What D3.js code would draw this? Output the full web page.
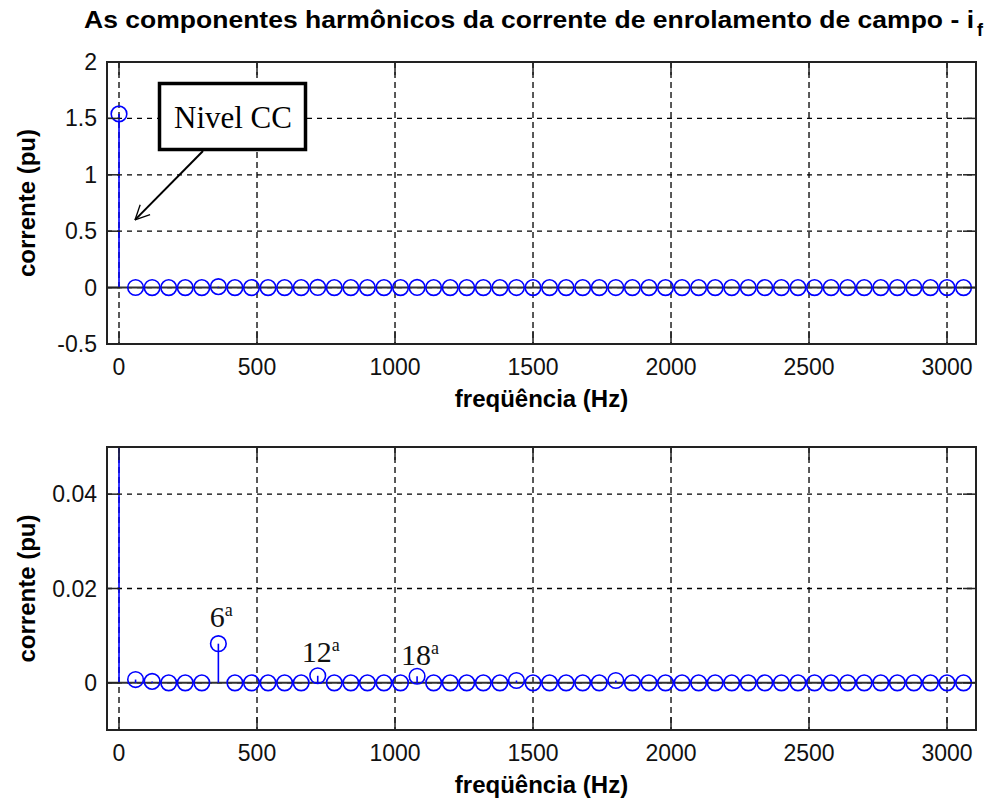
<!DOCTYPE html>
<html>
<head>
<meta charset="utf-8">
<script src="https://cdn.jsdelivr.net/npm/d3@7"></script>
<style>
    body { margin: 0; background: #ffffff; }
</style>
</head>
<body>
<script>
//harmonic frequencies (Hz) and amplitude of each component (pu)
var freqs = [0, 60, 120, 180, 240, 300, 360, 420, 480, 540, 600, 660, 720, 780, 840, 900,
    960, 1020, 1080, 1140, 1200, 1260, 1320, 1380, 1440, 1500, 1560, 1620, 1680, 1740, 1800,
    1860, 1920, 1980, 2040, 2100, 2160, 2220, 2280, 2340, 2400, 2460, 2520, 2580, 2640, 2700,
    2760, 2820, 2880, 2940, 3000, 3060];
var amps = [1.54, 0.0007, 0.0003, 0, 0, 0, 0.0083, 0, 0, 0, 0, 0, 0.0015, 0, 0, 0,
    0, 0, 0.0014, 0, 0, 0, 0, 0, 0.0005, 0, 0, 0, 0, 0, 0.0005,
    0, 0, 0, 0, 0, 0, 0, 0, 0, 0, 0, 0, 0, 0, 0,
    0, 0, 0, 0, 0, 0];

//tick values
var xTicks = [0, 500, 1000, 1500, 2000, 2500, 3000];
var yTicksTop = [-0.5, 0, 0.5, 1, 1.5, 2];
var yTicksBottom = [0, 0.02, 0.04];

//annotated harmonics in the zoomed panel
var harmLabels = [
    { n: "6", f: 360, dy: 17 },
    { n: "12", f: 720, dy: 14 },
    { n: "18", f: 1080, dy: 11 }
];

window.onload = drawChart();

function drawChart() {
    var width = 993,
        height = 800;

    var svg = d3.select("body")
        .append("svg")
        .attr("width", width)
        .attr("height", height);

    svg.append("rect")
        .attr("width", width)
        .attr("height", height)
        .attr("fill", "#ffffff");

    //title
    svg.append("text")
        .attr("x", 84)
        .attr("y", 28)
        .attr("font-family", "Liberation Sans, Arial, sans-serif")
        .attr("font-weight", "bold")
        .attr("font-size", 24)
        .attr("textLength", 890)
        .attr("lengthAdjust", "spacingAndGlyphs")
        .text("As componentes harmônicos da corrente de enrolamento de campo - i");
    svg.append("text")
        .attr("x", 977)
        .attr("y", 36)
        .attr("font-family", "Liberation Sans, Arial, sans-serif")
        .attr("font-weight", "bold")
        .attr("font-size", 18)
        .text("f");

    var x = d3.scaleLinear().domain([-43.5, 3105]).range([107, 976]);

    var yTop = d3.scaleLinear().domain([-0.5, 2]).range([344, 62]);
    var yBot = d3.scaleLinear().domain([-0.01, 0.05]).range([730, 447]);

    drawPanel(svg, "top", x, yTop, yTicksTop);
    drawPanel(svg, "bot", x, yBot, yTicksBottom);

    //"Nivel CC" callout on the top panel
    var box = svg.append("g");
    box.append("rect")
        .attr("x", 159.5)
        .attr("y", 83.5)
        .attr("width", 146)
        .attr("height", 66)
        .attr("fill", "#ffffff")
        .attr("stroke", "#000")
        .attr("stroke-width", 3.5);
    box.append("text")
        .attr("x", 233)
        .attr("y", 128)
        .attr("text-anchor", "middle")
        .attr("font-family", "Liberation Serif, Times New Roman, serif")
        .attr("font-size", 31)
        .text("Nivel CC");

    var tip = [x(0) + 16, yTop(0.6)];
    var tail = [203, 151];
    svg.append("line")
        .attr("x1", tail[0]).attr("y1", tail[1])
        .attr("x2", tip[0]).attr("y2", tip[1])
        .attr("stroke", "#000")
        .attr("stroke-width", 2);
    //open arrow head
    var ang = Math.atan2(tip[1] - tail[1], tip[0] - tail[0]);
    [-0.45, 0.45].forEach(function (a) {
        svg.append("line")
            .attr("x1", tip[0]).attr("y1", tip[1])
            .attr("x2", tip[0] - 16 * Math.cos(ang + a))
            .attr("y2", tip[1] - 16 * Math.sin(ang + a))
            .attr("stroke", "#000")
            .attr("stroke-width", 1.3);
    });

    //harmonic order labels on the zoomed panel
    harmLabels.forEach(function (h) {
        var i = freqs.indexOf(h.f);
        var t = svg.append("text")
            .attr("x", x(h.f) + 3)
            .attr("y", yBot(amps[i]) - h.dy)
            .attr("text-anchor", "middle")
            .attr("font-family", "Liberation Serif, Times New Roman, serif")
            .attr("font-size", 30)
            .attr("fill", "#111");
        t.append("tspan").text(h.n);
        t.append("tspan")
            .attr("font-size", 18)
            .attr("dy", -11)
            .text("a");
    });
}

function drawPanel(svg, id, x, y, yTicks) {
    var x0 = x.range()[0], x1 = x.range()[1],
        yb = y.range()[0], yt = y.range()[1];
    var g = svg.append("g");

    g.append("clipPath")
        .attr("id", "clip-" + id)
        .append("rect")
        .attr("x", x0).attr("y", yt)
        .attr("width", x1 - x0).attr("height", yb - yt);

    //dashed grid
    g.selectAll(".vgrid")
        .data(xTicks)
        .enter()
        .append("line")
        .attr("x1", function (d) { return x(d); })
        .attr("x2", function (d) { return x(d); })
        .attr("y1", yt).attr("y2", yb)
        .attr("stroke", "#000")
        .attr("stroke-width", 1.3)
        .attr("stroke-dasharray", "6,4");
    g.selectAll(".hgrid")
        .data(yTicks)
        .enter()
        .append("line")
        .attr("y1", function (d) { return y(d); })
        .attr("y2", function (d) { return y(d); })
        .attr("x1", x0).attr("x2", x1)
        .attr("stroke", "#000")
        .attr("stroke-width", 1.3)
        .attr("stroke-dasharray", "5,5");

    //stem baseline
    g.append("line")
        .attr("x1", x0).attr("x2", x1)
        .attr("y1", y(0)).attr("y2", y(0))
        .attr("stroke", "#333")
        .attr("stroke-width", 2);

    //stems and markers
    var plot = g.append("g").attr("clip-path", "url(#clip-" + id + ")");
    plot.selectAll(".stem")
        .data(freqs)
        .enter()
        .append("line")
        .attr("x1", function (d) { return x(d); })
        .attr("x2", function (d) { return x(d); })
        .attr("y1", y(0))
        .attr("y2", function (d, i) { return y(amps[i]); })
        .attr("stroke", "#0000ff")
        .attr("stroke-width", 1.6);
    plot.selectAll(".mark")
        .data(freqs)
        .enter()
        .append("circle")
        .attr("cx", function (d) { return x(d); })
        .attr("cy", function (d, i) { return y(amps[i]); })
        .attr("r", 7.8)
        .attr("fill", "none")
        .attr("stroke", "#0000ff")
        .attr("stroke-width", 1.6);

    //inward ticks on all four sides
    var tl = 13;
    xTicks.forEach(function (d) {
        g.append("line").attr("x1", x(d)).attr("x2", x(d)).attr("y1", yb).attr("y2", yb - tl)
            .attr("stroke", "#222").attr("stroke-width", 1.5);
        g.append("line").attr("x1", x(d)).attr("x2", x(d)).attr("y1", yt).attr("y2", yt + tl)
            .attr("stroke", "#222").attr("stroke-width", 1.5);
    });
    yTicks.forEach(function (d) {
        g.append("line").attr("x1", x0).attr("x2", x0 + tl).attr("y1", y(d)).attr("y2", y(d))
            .attr("stroke", "#222").attr("stroke-width", 1.5);
        g.append("line").attr("x1", x1).attr("x2", x1 - tl).attr("y1", y(d)).attr("y2", y(d))
            .attr("stroke", "#222").attr("stroke-width", 1.5);
    });

    //axes frame
    g.append("rect")
        .attr("x", x0).attr("y", yt)
        .attr("width", x1 - x0).attr("height", yb - yt)
        .attr("fill", "none")
        .attr("stroke", "#222")
        .attr("stroke-width", 2);

    //tick labels
    g.selectAll(".xl")
        .data(xTicks)
        .enter()
        .append("text")
        .attr("x", function (d) { return x(d); })
        .attr("y", yb + 31)
        .attr("text-anchor", "middle")
        .attr("font-family", "Liberation Sans, Arial, sans-serif")
        .attr("font-size", 23)
        .attr("fill", "#111")
        .text(function (d) { return d; });
    g.selectAll(".yl")
        .data(yTicks)
        .enter()
        .append("text")
        .attr("x", x0 - 10)
        .attr("y", function (d) { return y(d) + 8; })
        .attr("text-anchor", "end")
        .attr("font-family", "Liberation Sans, Arial, sans-serif")
        .attr("font-size", 23)
        .attr("fill", "#111")
        .text(function (d) { return d; });

    //axis titles
    g.append("text")
        .attr("x", (x0 + x1) / 2)
        .attr("y", yb + 63)
        .attr("text-anchor", "middle")
        .attr("font-family", "Liberation Sans, Arial, sans-serif")
        .attr("font-weight", "bold")
        .attr("font-size", 24)
        .text("freqüência (Hz)");
    g.append("text")
        .attr("transform", "translate(35," + (yb + yt) / 2 + ") rotate(-90)")
        .attr("text-anchor", "middle")
        .attr("font-family", "Liberation Sans, Arial, sans-serif")
        .attr("font-weight", "bold")
        .attr("font-size", 24)
        .text("corrente (pu)");
}
</script>
</body>
</html>
